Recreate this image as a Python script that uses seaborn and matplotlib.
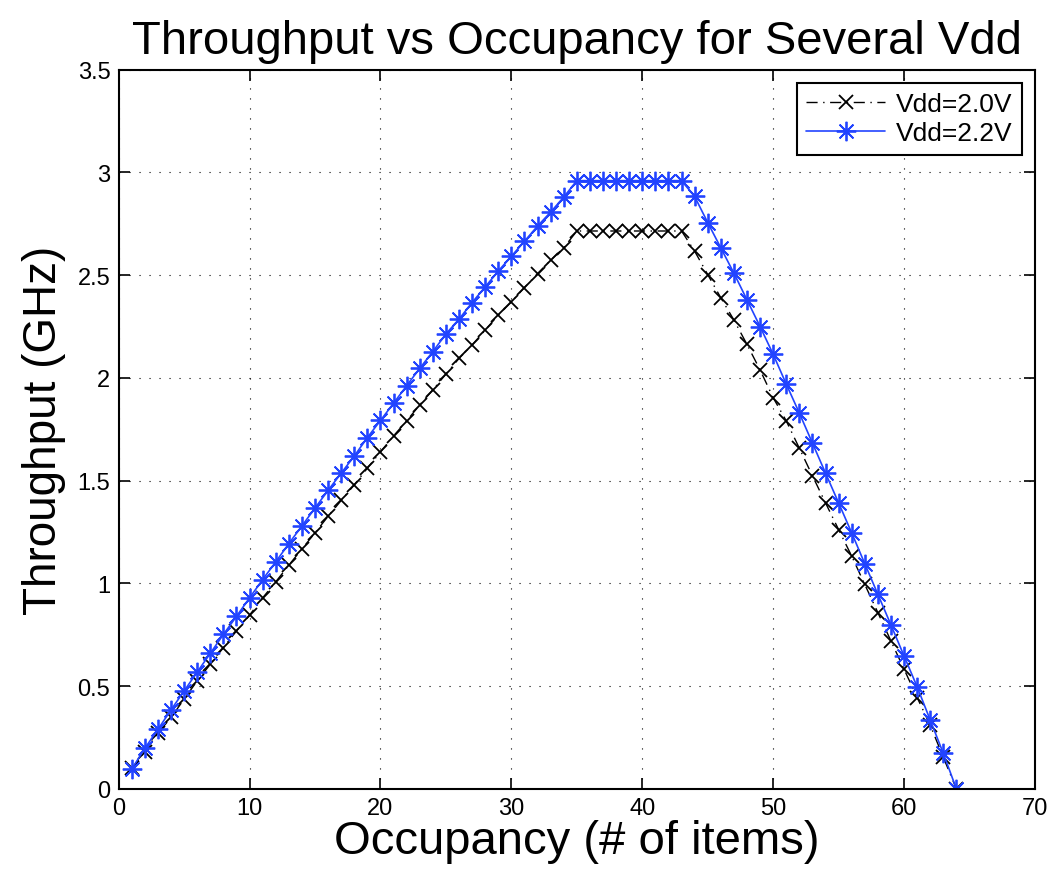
import matplotlib
matplotlib.use("Agg")
import matplotlib.pyplot as plt
import seaborn as sns
import pandas as pd

occupancy = list(range(1, 65))

vdd20 = [0.10, 0.181, 0.272, 0.348, 0.437, 0.526, 0.607, 0.688, 0.769, 0.846,
         0.930, 1.008, 1.089, 1.168, 1.246, 1.327, 1.404, 1.480, 1.561, 1.640,
         1.718, 1.791, 1.869, 1.942, 2.019, 2.095, 2.160, 2.233, 2.306, 2.370,
         2.440, 2.508, 2.573, 2.633, 2.715, 2.715, 2.715, 2.715, 2.715, 2.715,
         2.715, 2.715, 2.715, 2.617, 2.503, 2.390, 2.282, 2.163, 2.039, 1.904,
         1.791, 1.658, 1.524, 1.392, 1.262, 1.133, 0.995, 0.858, 0.720, 0.583,
         0.445, 0.310, 0.154, 0.0]

vdd22 = [0.097, 0.198, 0.290, 0.385, 0.477, 0.569, 0.660, 0.752, 0.840, 0.930,
         1.019, 1.105, 1.194, 1.280, 1.367, 1.453, 1.537, 1.620, 1.710, 1.793,
         1.877, 1.962, 2.047, 2.128, 2.214, 2.286, 2.367, 2.443, 2.520, 2.592,
         2.665, 2.739, 2.807, 2.880, 2.960, 2.960, 2.960, 2.960, 2.960, 2.960,
         2.960, 2.960, 2.960, 2.883, 2.756, 2.633, 2.510, 2.380, 2.250, 2.115,
         1.970, 1.829, 1.683, 1.537, 1.392, 1.246, 1.096, 0.947, 0.798, 0.647,
         0.497, 0.335, 0.173, 0.0]

df = pd.DataFrame({
    "occupancy": occupancy * 2,
    "throughput": vdd20 + vdd22,
    "series": ["Vdd=2.0V"] * 64 + ["Vdd=2.2V"] * 64,
})

sns.set_style("white")
plt.rcParams["font.family"] = ["Liberation Sans", "DejaVu Sans"]
plt.rcParams["text.color"] = "black"
plt.rcParams["axes.labelcolor"] = "black"
plt.rcParams["xtick.color"] = "black"
plt.rcParams["ytick.color"] = "black"

fig = plt.figure(figsize=(10.55, 8.79), dpi=100)
ax = fig.add_axes([0.1125, 0.1013, 0.8685, 0.8183])

blue = "#2244ff"
sns.lineplot(data=df[df.series == "Vdd=2.0V"], x="occupancy", y="throughput",
             color="black", linestyle=(0, (8, 4, 1, 4)), marker="x", markersize=10,
             markeredgewidth=1.3, markeredgecolor="black",
             linewidth=1.0, label="Vdd=2.0V", ax=ax)
sns.lineplot(data=df[df.series == "Vdd=2.2V"], x="occupancy", y="throughput",
             color=blue, linestyle="-", marker=(8, 2, 0), markersize=14,
             markeredgewidth=1.3, markeredgecolor=blue,
             linewidth=1.2, label="Vdd=2.2V", ax=ax)

ax.set_xlim(0, 70)
ax.set_ylim(0, 3.5)
ax.set_xticks(range(0, 71, 10))
ax.set_yticks([0, 0.5, 1, 1.5, 2, 2.5, 3, 3.5])
ax.set_yticklabels(["0", "0.5", "1", "1.5", "2", "2.5", "3", "3.5"])
ax.grid(True, color="black", linestyle=(0, (1, 8)), linewidth=0.8)
ax.tick_params(direction="in", length=8, width=1.2, labelsize=17,
               top=True, right=True, bottom=True, left=True, pad=6)
for s in ax.spines.values():
    s.set_color("black")
    s.set_linewidth(1.5)

ax.set_title("Throughput vs Occupancy for Several Vdd", fontsize=34, pad=12)
ax.set_xlabel("Occupancy (# of items)", fontsize=34, labelpad=0)
ax.set_ylabel("Throughput (GHz)", fontsize=33, labelpad=8)

leg = ax.legend(loc="upper right", fontsize=19, frameon=True, fancybox=False,
                edgecolor="black", framealpha=1, handlelength=3.0,
                handletextpad=0.4, borderaxespad=0.5, borderpad=0.35,
                labelspacing=0.2)
leg.get_frame().set_linewidth(1.5)

fig.savefig("out.png", dpi=100)
plt.close(fig)
